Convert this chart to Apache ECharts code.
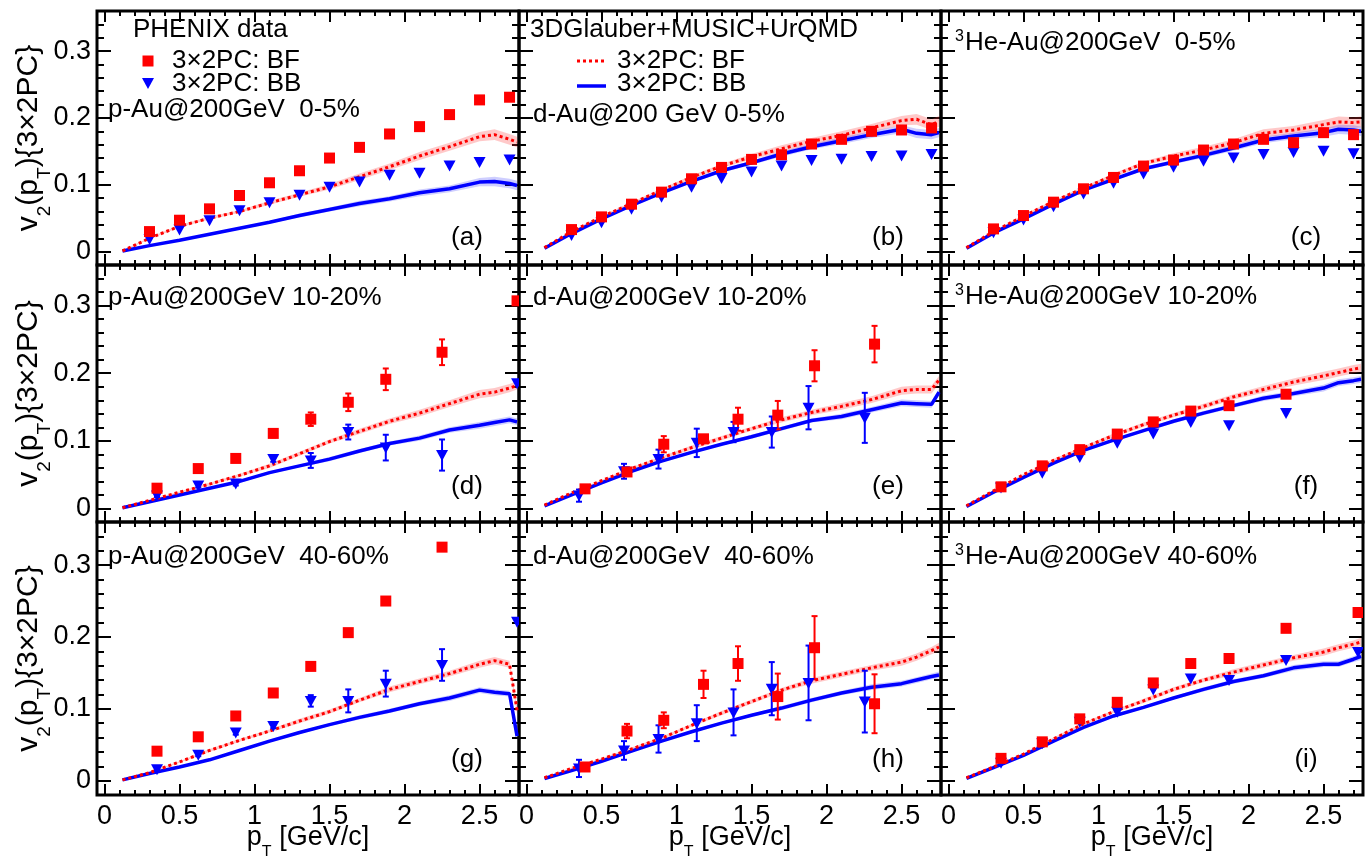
<!DOCTYPE html>
<html><head><meta charset="utf-8">
<script src="https://cdn.jsdelivr.net/npm/echarts@6/dist/echarts.min.js"></script>
<style>html,body{margin:0;padding:0;background:#fff}#chart{width:1370px;height:856px}</style>
</head><body><div id="chart"></div>
<script>
// ================= DATA =================
// pT positions of PHENIX points
const ptCentral = [0.3,0.5,0.7,0.9,1.1,1.3,1.5,1.7,1.9,2.1,2.3,2.5,2.7];
const ptPAu = [0.35,0.625,0.875,1.125,1.375,1.625,1.875,2.25,2.75];
const ptDAuBF = [0.39,0.67,0.915,1.18,1.41,1.675,1.92,2.32];
const ptDAuBB = [0.35,0.65,0.88,1.135,1.38,1.635,1.88,2.255];
const ptHeAu = [0.35,0.625,0.875,1.125,1.365,1.615,1.87,2.25,2.73];
// pT grid of model curves
const modelPt = [0.12,0.3,0.5,0.7,0.9,1.1,1.3,1.5,1.7,1.9,2.1,2.3,2.5,2.6,2.7,2.75];

// (a) p-Au 0-5%
const pAu05_BF = [0.030,0.047,0.064,0.084,0.103,0.121,0.140,0.156,0.176,0.187,0.205,0.227,0.231];
const pAu05_BB = [0.019,0.033,0.047,0.062,0.074,0.085,0.097,0.105,0.115,0.118,0.129,0.134,0.138];
const pAu05_mBF = [0.001,0.020,0.038,0.050,0.060,0.073,0.085,0.097,0.112,0.127,0.143,0.157,0.172,0.175,0.168,0.164];
const pAu05_mBB = [0.001,0.009,0.017,0.026,0.035,0.044,0.054,0.063,0.072,0.079,0.088,0.094,0.104,0.105,0.102,0.099];
// (b) d-Au 0-5%
const dAu05_BF = [0.033,0.052,0.071,0.089,0.109,0.126,0.138,0.145,0.161,0.168,0.180,0.182,0.185];
const dAu05_BB = [0.025,0.044,0.064,0.082,0.097,0.110,0.120,0.129,0.137,0.139,0.143,0.144,0.146];
const dAu05_mBF = [0.006,0.030,0.052,0.072,0.092,0.111,0.128,0.142,0.154,0.165,0.174,0.185,0.196,0.198,0.190,0.195];
const dAu05_mBB = [0.005,0.027,0.049,0.069,0.088,0.105,0.121,0.133,0.146,0.157,0.166,0.175,0.183,0.177,0.175,0.178];
// (c) 3He-Au 0-5%
const heAu05_BF = [0.034,0.054,0.074,0.094,0.111,0.128,0.137,0.152,0.161,0.168,0.163,0.178,0.175];
const heAu05_BB = [0.029,0.048,0.068,0.087,0.103,0.117,0.127,0.136,0.141,0.146,0.149,0.151,0.147];
const heAu05_mBF = [0.006,0.030,0.053,0.075,0.095,0.114,0.132,0.143,0.152,0.163,0.177,0.182,0.190,0.194,0.193,0.194];
const heAu05_mBB = [0.005,0.028,0.049,0.071,0.092,0.108,0.124,0.134,0.144,0.155,0.167,0.173,0.178,0.183,0.182,0.180];
// (d) p-Au 10-20%
const pAu1020_BF = [0.030,0.059,0.074,0.111,0.132,0.157,0.191,0.231,0.307];
const pAu1020_BFerr = [0.002,0.002,0.002,0.006,0.010,0.013,0.016,0.019,0];
const pAu1020_BB = [0.019,0.034,0.037,0.073,0.071,0.113,0.090,0.079,0.185];
const pAu1020_BBerr = [0.002,0.003,0.003,0.004,0.011,0.011,0.019,0.023,0];
const pAu1020_mBF = [0.001,0.012,0.024,0.036,0.049,0.063,0.081,0.099,0.114,0.129,0.141,0.155,0.169,0.172,0.178,0.182];
const pAu1020_mBB = [0.001,0.010,0.020,0.030,0.040,0.053,0.063,0.073,0.085,0.096,0.104,0.116,0.123,0.127,0.131,0.128];
// (e) d-Au 10-20%
const dAu1020_BF = [0.029,0.054,0.095,0.103,0.132,0.138,0.211,0.243];
const dAu1020_BFerr = [0.003,0.004,0.012,0.004,0.017,0.021,0.023,0.027];
const dAu1020_BB = [0.019,0.055,0.073,0.097,0.113,0.113,0.149,0.134];
const dAu1020_BBerr = [0.009,0.011,0.014,0.021,0.015,0.023,0.032,0.037];
const dAu1020_mBF = [0.005,0.023,0.041,0.059,0.075,0.090,0.104,0.118,0.131,0.142,0.151,0.161,0.174,0.176,0.176,0.190];
const dAu1020_mBB = [0.004,0.020,0.038,0.055,0.070,0.083,0.095,0.106,0.118,0.130,0.136,0.146,0.156,0.155,0.154,0.172];
// (f) 3He-Au 10-20%
const heAu1020_BF = [0.032,0.063,0.087,0.110,0.128,0.144,0.152,0.169];
const heAu1020_BB = [0.031,0.053,0.076,0.097,0.111,0.128,0.123,0.141];
const heAu1020_mBF = [0.004,0.026,0.050,0.071,0.090,0.108,0.124,0.138,0.151,0.165,0.176,0.187,0.196,0.201,0.206,0.208];
const heAu1020_mBB = [0.003,0.024,0.046,0.067,0.086,0.101,0.115,0.129,0.141,0.152,0.163,0.170,0.178,0.186,0.189,0.191];
// (g) p-Au 40-60%
const pAu4060_BF = [0.041,0.061,0.090,0.122,0.159,0.206,0.250,0.325];
const pAu4060_BFerr = [0.002,0.002,0.002,0.002,0.003,0.003,0.003,0.005];
const pAu4060_BB = [0.016,0.036,0.067,0.076,0.111,0.111,0.135,0.161,0.221];
const pAu4060_BBerr = [0.002,0.002,0.003,0.003,0.008,0.016,0.018,0.022,0];
const pAu4060_mBF = [0.001,0.011,0.026,0.042,0.056,0.069,0.083,0.096,0.112,0.127,0.138,0.149,0.162,0.167,0.162,0.098];
const pAu4060_mBB = [0.001,0.010,0.019,0.029,0.042,0.055,0.067,0.078,0.088,0.097,0.107,0.115,0.126,0.123,0.121,0.062];
// (h) d-Au 40-60%
const dAu4060_BF = [0.019,0.069,0.084,0.134,0.163,0.117,0.185,0.107];
const dAu4060_BFerr = [0.004,0.010,0.011,0.019,0.024,0.032,0.044,0.041];
const dAu4060_BB = [0.017,0.042,0.058,0.080,0.095,0.128,0.136,0.110];
const dAu4060_BBerr = [0.012,0.013,0.019,0.025,0.032,0.037,0.052,0.043];
const dAu4060_mBF = [0.004,0.017,0.030,0.044,0.059,0.077,0.094,0.110,0.126,0.139,0.148,0.157,0.165,0.172,0.181,0.186];
const dAu4060_mBB = [0.003,0.014,0.027,0.041,0.055,0.068,0.080,0.091,0.101,0.112,0.122,0.130,0.135,0.140,0.145,0.147];
// (i) 3He-Au 40-60%
const heAu4060_BF = [0.031,0.054,0.086,0.109,0.136,0.163,0.170,0.212,0.234];
const heAu4060_BB = [0.025,0.052,0.082,0.096,0.127,0.142,0.140,0.168,0.179];
const heAu4060_mBF = [0.004,0.019,0.037,0.058,0.079,0.096,0.111,0.127,0.140,0.151,0.161,0.171,0.179,0.185,0.190,0.193];
const heAu4060_mBB = [0.003,0.018,0.035,0.055,0.074,0.090,0.102,0.115,0.127,0.138,0.146,0.157,0.162,0.162,0.169,0.173];

// model uncertainty band half-widths (per row)
const band0_BF = [0.001,0.001,0.002,0.002,0.002,0.003,0.003,0.004,0.005,0.005,0.006,0.006,0.007,0.008,0.008,0.008];
const band0_BB = [0.001,0.001,0.001,0.002,0.002,0.002,0.003,0.003,0.004,0.004,0.005,0.005,0.006,0.007,0.007,0.007];
const band1_BF = [0.001,0.001,0.001,0.002,0.002,0.003,0.003,0.003,0.004,0.004,0.005,0.005,0.006,0.006,0.006,0.006];
const band1_BB = [0.001,0.001,0.001,0.001,0.002,0.002,0.002,0.003,0.003,0.003,0.004,0.004,0.005,0.005,0.005,0.005];
const band2_BF = [0.001,0.001,0.001,0.002,0.002,0.002,0.003,0.003,0.003,0.004,0.004,0.004,0.005,0.005,0.005,0.006];
const band2_BB = [0.001,0.001,0.001,0.001,0.001,0.002,0.002,0.002,0.003,0.003,0.003,0.004,0.004,0.004,0.004,0.005];

// ticks
const xMajorTicks = [0,0.5,1,1.5,2,2.5];
const xMinorTicks = [0,0.1,0.2,0.3,0.4,0.5,0.6,0.7,0.8,0.9,1,1.1,1.2,1.3,1.4,1.5,1.6,1.7,1.8,1.9,2,2.1,2.2,2.3,2.4,2.5,2.6,2.7];
const yMajorTicks = [0,0.1,0.2,0.3];
const yMinorTicks = [0,0.02,0.04,0.06,0.08,0.1,0.12,0.14,0.16,0.18,0.2,0.22,0.24,0.26,0.28,0.3,0.32,0.34];

// texts
const panelTitles = ['p-Au@200GeV  0-5%','d-Au@200 GeV 0-5%','{sup|3}{m|He-Au@200GeV  0-5%}',
  'p-Au@200GeV 10-20%','d-Au@200GeV 10-20%','{sup|3}{m|He-Au@200GeV 10-20%}',
  'p-Au@200GeV  40-60%','d-Au@200GeV  40-60%','{sup|3}{m|He-Au@200GeV 40-60%}'];
const panelLabels = ['(a)','(b)','(c)','(d)','(e)','(f)','(g)','(h)','(i)'];
const dataLegendTitle = 'PHENIX data';
const modelLegendTitle = '3DGlauber+MUSIC+UrQMD';
const nameBF = '3×2PC: BF';
const nameBB = '3×2PC: BB';

// ================= LAYOUT =================
const FONT = '"Liberation Sans", Arial, Helvetica, sans-serif';
const X_MIN = -0.05, X_MAX = 2.763, Y_MIN = -0.02, Y_MAX = 0.36;
const colLeft = [97, 519, 941];
const colW = 422;
const rowTop = [11, 265, 522];
const rowH = [254, 257, 273];
const titlePos = [[108,110],[533,115],[955,43],[108,298],[533,298],[955,297],[108,557],[533,557],[955,557]];
const labelPos = [[467,238],[888,238],[1306,238],[467,487],[888,487],[1306,487],[467,760],[888,760],[1306,760]];

const panels = [
  {bfX:ptCentral,bf:pAu05_BF,bbX:ptCentral,bb:pAu05_BB,mBF:pAu05_mBF,mBB:pAu05_mBB},
  {bfX:ptCentral,bf:dAu05_BF,bbX:ptCentral,bb:dAu05_BB,mBF:dAu05_mBF,mBB:dAu05_mBB},
  {bfX:ptCentral,bf:heAu05_BF,bbX:ptCentral,bb:heAu05_BB,mBF:heAu05_mBF,mBB:heAu05_mBB},
  {bfX:ptPAu,bf:pAu1020_BF,bfErr:pAu1020_BFerr,bbX:ptPAu,bb:pAu1020_BB,bbErr:pAu1020_BBerr,mBF:pAu1020_mBF,mBB:pAu1020_mBB},
  {bfX:ptDAuBF,bf:dAu1020_BF,bfErr:dAu1020_BFerr,bbX:ptDAuBB,bb:dAu1020_BB,bbErr:dAu1020_BBerr,mBF:dAu1020_mBF,mBB:dAu1020_mBB},
  {bfX:ptHeAu,bf:heAu1020_BF,bbX:ptHeAu,bb:heAu1020_BB,mBF:heAu1020_mBF,mBB:heAu1020_mBB},
  {bfX:ptPAu,bf:pAu4060_BF,bfErr:pAu4060_BFerr,bbX:ptPAu,bb:pAu4060_BB,bbErr:pAu4060_BBerr,mBF:pAu4060_mBF,mBB:pAu4060_mBB},
  {bfX:ptDAuBF,bf:dAu4060_BF,bfErr:dAu4060_BFerr,bbX:ptDAuBB,bb:dAu4060_BB,bbErr:dAu4060_BBerr,mBF:dAu4060_mBF,mBB:dAu4060_mBB},
  {bfX:ptHeAu,bf:heAu4060_BF,bbX:ptHeAu,bb:heAu4060_BB,mBF:heAu4060_mBF,mBB:heAu4060_mBB}
];
const bandsBF = [band0_BF, band1_BF, band2_BF];
const bandsBB = [band0_BB, band1_BB, band2_BB];

const RED = '#ff0000', BLUE = '#0000ff';
const grids = [], xAxes = [], yAxes = [], series = [];

const xTitleRich = {
  m: {fontSize: 27, fontFamily: FONT, color: '#000', lineHeight: 30, verticalAlign: 'middle'},
  s: {fontSize: 16, fontFamily: FONT, color: '#000', lineHeight: 16, padding: [30,0,0,0], verticalAlign: 'middle'}
};
const yTitleRich = {
  m: {fontSize: 30, fontFamily: FONT, color: '#000', lineHeight: 32, verticalAlign: 'middle'},
  s: {fontSize: 19, fontFamily: FONT, color: '#000', lineHeight: 19, padding: [32,0,0,0], verticalAlign: 'middle'}
};

function tickStyle(len, vals) {
  return {show: true, inside: true, length: len, customValues: vals, lineStyle: {color: '#000', width: 2}};
}

for (let r = 0; r < 3; r++) {
  for (let c = 0; c < 3; c++) {
    const gi = r * 3 + c;
    const gMain = 2 * gi, gMinor = 2 * gi + 1;
    // main grid (frame + data + major ticks)
    grids.push({left: colLeft[c], top: rowTop[r], width: colW, height: rowH[r], show: true,
      borderColor: '#000', borderWidth: 3, backgroundColor: 'transparent', containLabel: false, outerBoundsMode: 'none'});
    // overlay grid for minor ticks
    grids.push({left: colLeft[c], top: rowTop[r], width: colW, height: rowH[r], show: false, containLabel: false, outerBoundsMode: 'none'});
    const bx = g => ({gridIndex: g, type: 'value', min: X_MIN, max: X_MAX, axisLine: {show: false, onZero: false}, splitLine: {show: false}, axisLabel: {show: false}});
    const by = g => ({gridIndex: g, type: 'value', min: Y_MIN, max: Y_MAX, axisLine: {show: false, onZero: false}, splitLine: {show: false}, axisLabel: {show: false}});
    const showXL = r === 2, showYL = c === 0;
    // x axes: 4gi bottom major, 4gi+1 top major, 4gi+2 bottom minor, 4gi+3 top minor
    xAxes.push(Object.assign(bx(gMain), {position: 'bottom', axisTick: tickStyle(11, xMajorTicks),
      axisLabel: {show: showXL, customValues: xMajorTicks, fontSize: 27, fontFamily: FONT, color: '#000', margin: 8},
      name: showXL ? '{m|p}{s|T}{m| [GeV/c]}' : '', nameLocation: 'middle', nameGap: 43, nameMoveOverlap: false,
      nameTextStyle: {rich: xTitleRich, fontSize: 27, fontFamily: FONT, color: '#000', verticalAlign: 'middle'}}));
    xAxes.push(Object.assign(bx(gMain), {position: 'top', axisTick: tickStyle(11, xMajorTicks)}));
    xAxes.push(Object.assign(bx(gMinor), {position: 'bottom', axisTick: tickStyle(5, xMinorTicks)}));
    xAxes.push(Object.assign(bx(gMinor), {position: 'top', axisTick: tickStyle(5, xMinorTicks)}));
    // y axes: 4gi left major, 4gi+1 right major, 4gi+2 left minor, 4gi+3 right minor
    yAxes.push(Object.assign(by(gMain), {position: 'left', axisTick: tickStyle(14, yMajorTicks),
      axisLabel: {show: showYL, customValues: yMajorTicks, fontSize: 27, fontFamily: FONT, color: '#000', margin: 6},
      name: showYL ? '{m|v}{s|2}{m|(p}{s|T}{m|){3×2PC}' + '}' : '', nameLocation: 'middle', nameGap: 68, nameMoveOverlap: false,
      nameTextStyle: {rich: yTitleRich, fontSize: 30, fontFamily: FONT, color: '#000', verticalAlign: 'middle', lineHeight: 32}}));
    yAxes.push(Object.assign(by(gMain), {position: 'right', axisTick: tickStyle(14, yMajorTicks)}));
    yAxes.push(Object.assign(by(gMinor), {position: 'left', axisTick: tickStyle(7, yMinorTicks)}));
    yAxes.push(Object.assign(by(gMinor), {position: 'right', axisTick: tickStyle(7, yMinorTicks)}));

    const p = panels[gi];
    const ax = {xAxisIndex: gi * 4, yAxisIndex: gi * 4};
    // bands
    const mkBand = (center, half, color) => {
      const d = modelPt.map((x, i) => [x, center[i] - half[i], center[i] + half[i]]);
      return Object.assign({type: 'custom', silent: true, z: 1, clip: true, data: d, encode: {x: 0, y: [1, 2]},
        renderItem: function (params, api) {
          if (params.dataIndex !== 0) return null;
          const up = d.map(q => api.coord([q[0], q[2]]));
          const lo = d.map(q => api.coord([q[0], q[1]])).reverse();
          return {type: 'polygon', shape: {points: up.concat(lo)}, style: {fill: color}};
        }}, ax);
    };
    series.push(mkBand(p.mBF, bandsBF[r], 'rgba(255,60,60,0.28)'));
    series.push(mkBand(p.mBB, bandsBB[r], 'rgba(60,60,255,0.25)'));
    series.push(Object.assign({type: 'line', name: nameBF, z: 3, symbol: 'none', silent: true,
      data: modelPt.map((x, i) => [x, p.mBF[i]]),
      lineStyle: {color: RED, width: 3, type: [3, 3], cap: 'butt'}}, ax));
    series.push(Object.assign({type: 'line', name: nameBB, z: 2, symbol: 'none', silent: true,
      data: modelPt.map((x, i) => [x, p.mBB[i]]),
      lineStyle: {color: BLUE, width: 3.5}}, ax));
    // error bars
    const mkErr = (xs, ys, es, color) => Object.assign({type: 'custom', silent: true, z: 4, clip: true,
      data: ys.map((y, i) => [xs[i], y, es[i]]),
      renderItem: function (params, api) {
        const x = api.value(0), y = api.value(1), e = api.value(2);
        if (!e) return null;
        const t = api.coord([x, y + e]), b = api.coord([x, y - e]);
        const w = 3, ls = {stroke: color, lineWidth: 2};
        return {type: 'group', children: [
          {type: 'line', shape: {x1: t[0], y1: t[1], x2: b[0], y2: b[1]}, style: ls},
          {type: 'line', shape: {x1: t[0] - w, y1: t[1], x2: t[0] + w, y2: t[1]}, style: ls},
          {type: 'line', shape: {x1: b[0] - w, y1: b[1], x2: b[0] + w, y2: b[1]}, style: ls}
        ]};
      }}, ax);
    if (p.bfErr) series.push(mkErr(p.bfX, p.bf, p.bfErr, RED));
    if (p.bbErr) series.push(mkErr(p.bbX, p.bb, p.bbErr, BLUE));
    // markers (custom so that they are clipped at the frame like the original)
    series.push(Object.assign({type: 'custom', name: nameBF, z: 6, clip: true, silent: true,
      data: p.bf.map((y, i) => [p.bfX[i], y]),
      renderItem: function (params, api) {
        const pt = api.coord([api.value(0), api.value(1)]);
        return {type: 'rect', shape: {x: pt[0] - 5.5, y: pt[1] - 5.5, width: 11, height: 11}, style: {fill: RED}};
      }}, ax));
    series.push(Object.assign({type: 'custom', name: nameBB, z: 5, clip: true, silent: true,
      data: p.bb.map((y, i) => [p.bbX[i], y]),
      renderItem: function (params, api) {
        const pt = api.coord([api.value(0), api.value(1)]);
        return {type: 'polygon', shape: {points: [[pt[0] - 6, pt[1] - 5], [pt[0] + 6, pt[1] - 5], [pt[0], pt[1] + 6]]}, style: {fill: BLUE}};
      }}, ax));
  }
}

// ================= TEXT / LEGENDS =================
const graphics = [];
const titleRich = {
  m: {fontSize: 26, fontFamily: FONT, color: '#000', verticalAlign: 'middle', lineHeight: 30},
  sup: {fontSize: 16, fontFamily: FONT, color: '#000', verticalAlign: 'middle', lineHeight: 16, padding: [0, 1, 13, 0]}
};
panelTitles.forEach((t, i) => {
  graphics.push({type: 'text', x: titlePos[i][0], y: titlePos[i][1], z: 100,
    style: {text: t, rich: titleRich, fontSize: 26, fontFamily: FONT, fill: '#000', align: 'left', verticalAlign: 'middle'}});
});
panelLabels.forEach((t, i) => {
  graphics.push({type: 'text', x: labelPos[i][0], y: labelPos[i][1], z: 100,
    style: {text: t, fontSize: 26, fontFamily: FONT, fill: '#000', align: 'center', verticalAlign: 'middle'}});
});
const txt = (s, x, y) => ({type: 'text', x: x, y: y, z: 100,
  style: {text: s, fontSize: 26, fontFamily: FONT, fill: '#000', align: 'left', verticalAlign: 'middle'}});
// data legend (panel a)
graphics.push(txt(dataLegendTitle, 133, 30));
graphics.push({type: 'rect', z: 100, shape: {x: 142.5, y: 55.5, width: 11, height: 11}, style: {fill: RED}});
graphics.push(txt(nameBF, 172, 61));
graphics.push({type: 'polygon', z: 100, shape: {points: [[142, 78], [154, 78], [148, 89]]}, style: {fill: BLUE}});
graphics.push(txt(nameBB, 172, 84));
// model legend (panel b)
graphics.push(txt(modelLegendTitle, 530, 30));
graphics.push({type: 'line', z: 100, shape: {x1: 577, y1: 61, x2: 606, y2: 61}, style: {stroke: RED, lineWidth: 3, lineDash: [3, 3]}});
graphics.push(txt(nameBF, 617, 61));
graphics.push({type: 'line', z: 100, shape: {x1: 577, y1: 86, x2: 606, y2: 86}, style: {stroke: BLUE, lineWidth: 3.5}});
graphics.push(txt(nameBB, 617, 84));

const chart = echarts.init(document.getElementById('chart'), null, {renderer: 'canvas'});
chart.setOption({
  animation: false,
  backgroundColor: '#fff',
  grid: grids,
  xAxis: xAxes,
  yAxis: yAxes,
  series: series,
  graphic: {elements: graphics}
});
</script>
</body></html>
